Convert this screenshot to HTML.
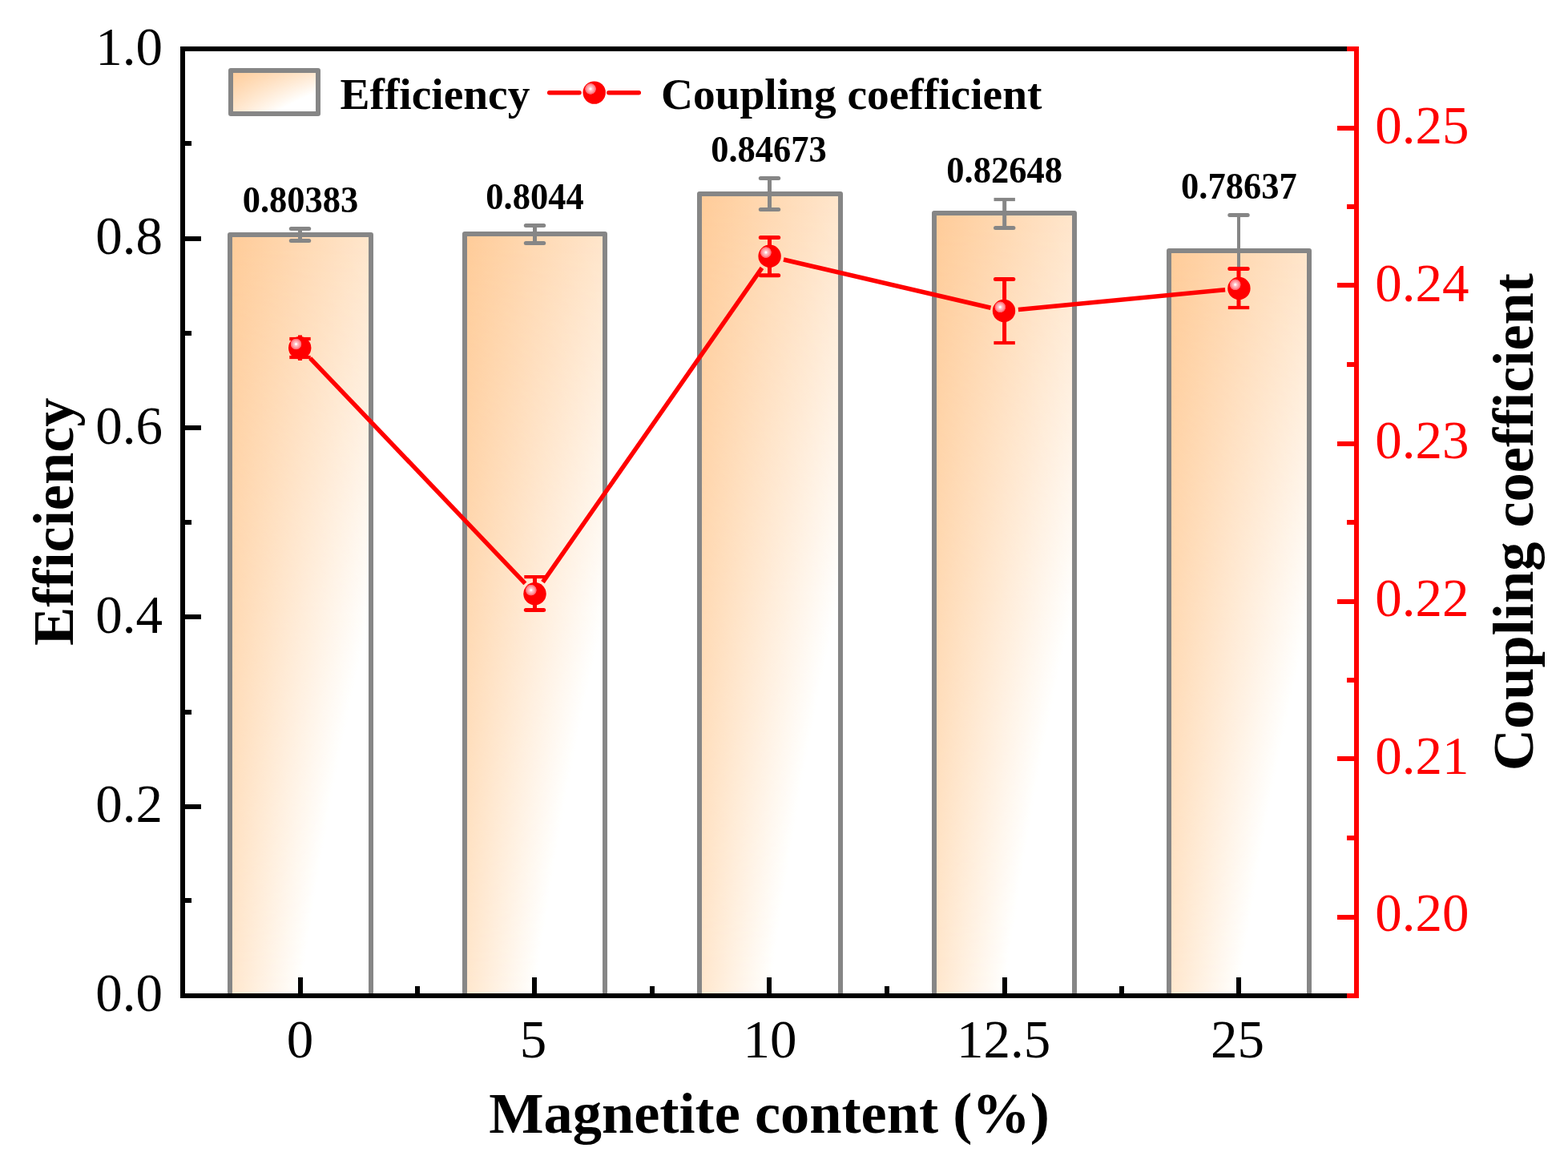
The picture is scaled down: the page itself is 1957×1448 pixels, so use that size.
<!DOCTYPE html>
<html lang="en"><head><meta charset="utf-8"><title>Efficiency and coupling coefficient vs magnetite content</title>
<style>
html,body{margin:0;padding:0;background:#fff;}
body{width:1957px;height:1448px;overflow:hidden;}
svg{display:block;}
text{font-family:"Liberation Serif","Times New Roman",serif;font-variant-ligatures:none;font-kerning:none;}
.b{font-weight:bold;}
</style></head><body>
<svg width="1957" height="1448" viewBox="0 0 1957 1448" role="img" aria-label="Bar and line chart">
<defs>
<linearGradient id="gt" x1="0" y1="0" x2="1" y2="0"><stop offset="0" stop-color="rgb(208,153,102)"/><stop offset="1" stop-color="rgb(208,178.5,153)"/></linearGradient>
<linearGradient id="gb" x1="0" y1="0" x2="1" y2="0"><stop offset="0" stop-color="rgb(208,178.5,153)"/><stop offset="1" stop-color="rgb(208,229.5,255)"/></linearGradient>
<linearGradient id="gm" x1="0" y1="0" x2="0" y2="1"><stop offset="0" stop-color="#000000"/><stop offset="1" stop-color="#ffffff"/></linearGradient>
<mask id="mk" maskContentUnits="objectBoundingBox" x="0" y="0" width="1" height="1"><rect x="0" y="0" width="1" height="1" fill="url(#gm)"/></mask>
<filter id="lift" x="0" y="0" width="1" height="1" color-interpolation-filters="sRGB"><feComponentTransfer><feFuncR type="linear" slope="1" intercept="0.2"/><feFuncG type="linear" slope="1" intercept="0.2"/><feFuncB type="linear" slope="1" intercept="0.2"/></feComponentTransfer></filter>
<radialGradient id="s" cx="0.335" cy="0.335" r="0.25" fx="0.335" fy="0.335"><stop offset="0" stop-color="#ffffff"/><stop offset="0.13" stop-color="#ffffff"/><stop offset="0.3" stop-color="#ffc4c8"/><stop offset="0.65" stop-color="#ff9aa0"/><stop offset="0.92" stop-color="#ff626a"/><stop offset="1" stop-color="#ff0000"/></radialGradient>
</defs>
<rect x="0" y="0" width="1957" height="1448" fill="#ffffff"/>
<g filter="url(#lift)"><rect x="287" y="293" width="176" height="950" fill="url(#gt)"/><rect x="287" y="293" width="176" height="950" fill="url(#gb)" mask="url(#mk)"/></g>
<g filter="url(#lift)"><rect x="580" y="292" width="175" height="951" fill="url(#gt)"/><rect x="580" y="292" width="175" height="951" fill="url(#gb)" mask="url(#mk)"/></g>
<g filter="url(#lift)"><rect x="873" y="242" width="176" height="1001" fill="url(#gt)"/><rect x="873" y="242" width="176" height="1001" fill="url(#gb)" mask="url(#mk)"/></g>
<g filter="url(#lift)"><rect x="1166" y="266" width="175" height="977" fill="url(#gt)"/><rect x="1166" y="266" width="175" height="977" fill="url(#gb)" mask="url(#mk)"/></g>
<g filter="url(#lift)"><rect x="1459" y="313" width="175" height="930" fill="url(#gt)"/><rect x="1459" y="313" width="175" height="930" fill="url(#gb)" mask="url(#mk)"/></g>
<g stroke="#868686" stroke-width="6" stroke-linejoin="round" fill="none">
<rect x="287" y="293" width="176" height="950"/>
<rect x="580" y="292" width="175" height="951"/>
<rect x="873" y="242" width="176" height="1001"/>
<rect x="1166" y="266" width="175" height="977"/>
<rect x="1459" y="313" width="175" height="930"/>
</g>
<g stroke="#868686" fill="none"><path stroke-width="5" d="M374.5 285.5 V300.5"/><path stroke-width="5" stroke-linecap="round" d="M363.3 285.5 H385.7"/><path stroke-width="5" stroke-linecap="round" d="M363.3 300.5 H385.7"/></g>
<g stroke="#868686" fill="none"><path stroke-width="5" d="M667.5 281.5 V303.6"/><path stroke-width="5" stroke-linecap="round" d="M656.3 281.5 H678.7"/><path stroke-width="5" stroke-linecap="round" d="M656.3 303.6 H678.7"/></g>
<g stroke="#868686" fill="none"><path stroke-width="5" d="M960.5 222.6 V261.4"/><path stroke-width="5" stroke-linecap="round" d="M949.3 222.6 H971.7"/><path stroke-width="5" stroke-linecap="round" d="M949.3 261.4 H971.7"/></g>
<g stroke="#868686" fill="none"><path stroke-width="5" d="M1253.7 249 V284.5"/><path stroke-width="4.2" d="M1240.5 249 H1266.9"/><path stroke-width="5" stroke-linecap="round" d="M1242.5 284.5 H1264.9"/></g>
<g stroke="#868686" fill="none"><path stroke-width="4" d="M1546 268.5 V340"/><path stroke-width="5" stroke-linecap="round" d="M1534.8 268.5 H1557.2"/></g>
<g fill="#000000">
<rect x="225" y="58" width="6" height="1188"/>
<rect x="225" y="58" width="1465" height="6"/>
<rect x="225" y="1240" width="1465" height="6"/>
<rect x="231" y="1121" width="8" height="6"/>
<rect x="231" y="1004" width="20" height="6"/>
<rect x="231" y="886" width="8" height="6"/>
<rect x="231" y="767" width="20" height="6"/>
<rect x="231" y="649" width="8" height="6"/>
<rect x="231" y="531" width="20" height="6"/>
<rect x="231" y="413" width="8" height="6"/>
<rect x="231" y="295" width="20" height="6"/>
<rect x="231" y="176" width="8" height="6"/>
<rect x="372" y="1220" width="6" height="20"/>
<rect x="664" y="1220" width="6" height="20"/>
<rect x="957" y="1220" width="6" height="20"/>
<rect x="1251" y="1220" width="6" height="20"/>
<rect x="1543" y="1220" width="6" height="20"/>
<rect x="518" y="1231" width="6" height="9"/>
<rect x="811" y="1231" width="6" height="9"/>
<rect x="1104" y="1231" width="6" height="9"/>
<rect x="1397" y="1231" width="6" height="9"/>
</g>
<g stroke="#ff0000" stroke-width="5.5" fill="none">
<line x1="387.1" y1="447.1" x2="655.4" y2="728.3"/>
<line x1="677.5" y1="726.6" x2="951.0" y2="334.4"/>
<line x1="978.0" y1="324.0" x2="1236.5" y2="384.2"/>
<line x1="1270.9" y1="386.5" x2="1529.1" y2="361.7"/>
</g>
<g stroke="#ff0000" fill="none"><path stroke-width="5" d="M374.5 423 V446"/><path stroke-width="4.2" d="M361.3 423 H387.7"/><path stroke-width="4.2" d="M361.3 446 H387.7"/></g>
<g stroke="#ff0000" fill="none"><path stroke-width="5" d="M667.5 720.1 V761.5"/><path stroke-width="4.2" d="M654.3 720.1 H680.7"/><path stroke-width="5" stroke-linecap="round" d="M656.3 761.5 H678.7"/></g>
<g stroke="#ff0000" fill="none"><path stroke-width="5" d="M960.5 296.5 V343.7"/><path stroke-width="5" stroke-linecap="round" d="M949.3 296.5 H971.7"/><path stroke-width="5" stroke-linecap="round" d="M949.3 343.7 H971.7"/></g>
<g stroke="#ff0000" fill="none"><path stroke-width="5" d="M1253.6 348.5 V428"/><path stroke-width="5" stroke-linecap="round" d="M1242.4 348.5 H1264.8"/><path stroke-width="4.2" d="M1240.4 428 H1266.8"/></g>
<g stroke="#ff0000" fill="none"><path stroke-width="5" d="M1546 335.5 V384"/><path stroke-width="5" stroke-linecap="round" d="M1534.8 335.5 H1557.2"/><path stroke-width="4.2" d="M1532.8 384 H1559.2"/></g>
<rect x="372" y="418.4" width="5" height="31.6" fill="#ff0000"/>
<g fill="url(#s)">
<circle cx="374.2" cy="434.2" r="14.2"/>
<circle cx="667.5" cy="741.3" r="14.2"/>
<circle cx="960.6" cy="319.8" r="14.2"/>
<circle cx="1253" cy="388" r="14.2"/>
<circle cx="1546.4" cy="360" r="14.2"/>
</g>
<g fill="#ff0000">
<rect x="1690" y="58" width="6" height="1188"/>
<rect x="1681" y="1240" width="9" height="6"/>
<rect x="1669" y="1142" width="21" height="6"/>
<rect x="1681" y="1043" width="9" height="6"/>
<rect x="1669" y="944" width="21" height="6"/>
<rect x="1681" y="846" width="9" height="6"/>
<rect x="1669" y="748" width="21" height="6"/>
<rect x="1681" y="649" width="9" height="6"/>
<rect x="1669" y="551" width="21" height="6"/>
<rect x="1681" y="452" width="9" height="6"/>
<rect x="1669" y="353" width="21" height="6"/>
<rect x="1681" y="255" width="9" height="6"/>
<rect x="1669" y="157" width="21" height="6"/>
<rect x="1681" y="58" width="9" height="6"/>
</g>
<g filter="url(#lift)"><rect x="288" y="88" width="109" height="54" fill="url(#gt)"/><rect x="288" y="88" width="109" height="54" fill="url(#gb)" mask="url(#mk)"/></g>
<rect x="288" y="88" width="109" height="54" fill="none" stroke="#868686" stroke-width="6" stroke-linejoin="round"/>
<path d="M685.7 115.8 H723 M759.8 115.8 H797.3" stroke="#ff0000" stroke-width="5.5" stroke-linecap="round" fill="none"/>
<circle cx="741.7" cy="115.6" r="14.2" fill="url(#s)"/>
<text class="b" font-size="55.4" transform="translate(424.5 135.7)">Efficiency</text>
<text class="b" font-size="55.4" transform="translate(825 135.7)">Coupling coefficient</text>
<text class="b" font-size="44.5" transform="translate(375 264.8) scale(1 1.035)" text-anchor="middle">0.80383</text>
<text class="b" font-size="44.5" transform="translate(667.5 260.8) scale(1 1.035)" text-anchor="middle">0.8044</text>
<text class="b" font-size="44.5" transform="translate(959.5 201.9) scale(1 1.035)" text-anchor="middle">0.84673</text>
<text class="b" font-size="44.5" transform="translate(1253.6 228.3) scale(1 1.035)" text-anchor="middle">0.82648</text>
<text class="b" font-size="44.5" transform="translate(1546.4 247.8) scale(1 1.035)" text-anchor="middle">0.78637</text>
<g font-size="67" text-anchor="end" fill="#000000">
<text x="203" y="1262.4">0.0</text>
<text x="203" y="1026.1">0.2</text>
<text x="203" y="789.8">0.4</text>
<text x="203" y="553.5">0.6</text>
<text x="203" y="317.3">0.8</text>
<text x="203" y="81">1.0</text>
</g>
<g font-size="67" fill="#ff0000">
<text x="1716.3" y="1162.2">0.20</text>
<text x="1716.3" y="965.6">0.21</text>
<text x="1716.3" y="769">0.22</text>
<text x="1716.3" y="572.4">0.23</text>
<text x="1716.3" y="375.8">0.24</text>
<text x="1716.3" y="179.2">0.25</text>
</g>
<g font-size="67" text-anchor="middle" fill="#000000">
<text x="374.5" y="1319.6">0</text>
<text x="665.6" y="1319.6">5</text>
<text x="961" y="1319.6">10</text>
<text x="1252.6" y="1319.6">12.5</text>
<text x="1544.6" y="1319.6">25</text>
</g>
<text class="b" font-size="72.4" transform="translate(960 1413.6)" text-anchor="middle">Magnetite content (%)</text>
<text class="b" font-size="72.4" transform="translate(91 651.3) rotate(-90)" text-anchor="middle">Efficiency</text>
<text class="b" font-size="72.4" transform="translate(1912.7 651.7) rotate(-90)" text-anchor="middle">Coupling coefficient</text>
</svg>
</body></html>
